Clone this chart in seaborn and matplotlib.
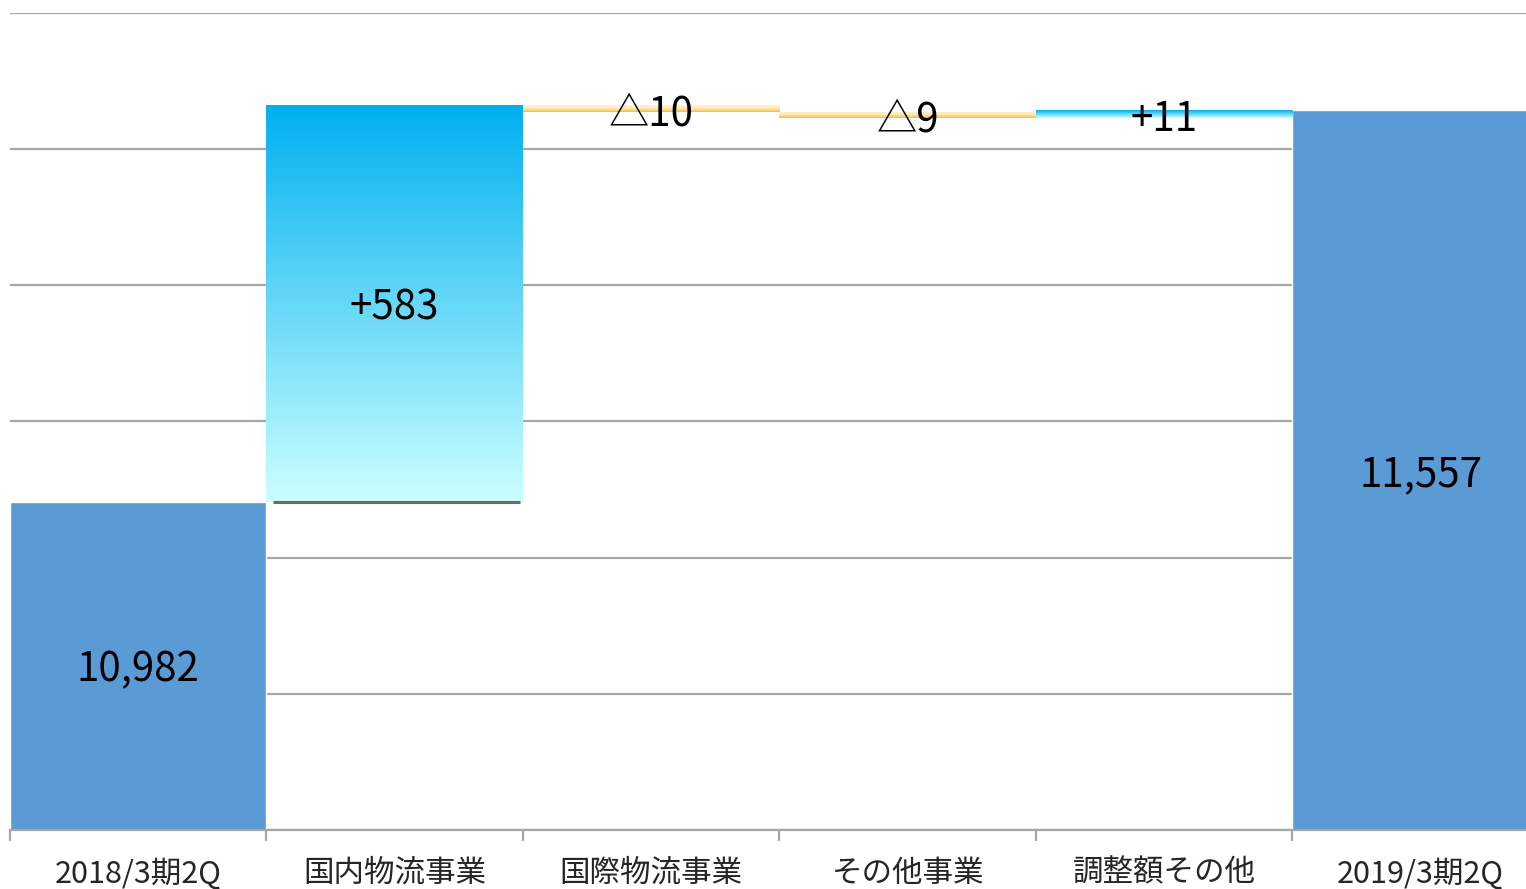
import numpy as np
import pandas as pd
import matplotlib
matplotlib.use("Agg")
import matplotlib.pyplot as plt
from matplotlib.colors import LinearSegmentedColormap
import seaborn as sns

# Data
categories = ["2018/3期2Q", "国内物流事業", "国際物流事業", "その他事業", "調整額その他", "2019/3期2Q"]
start_total = 10982
deltas = [583, -10, -9, 11]
end_total = 11557
labels = ["10,982", "+583", "△10", "△9", "+11", "11,557"]

# Build floating bar table
lows, highs = [0], [start_total]
level = start_total
for d in deltas:
    new = level + d
    lows.append(min(level, new))
    highs.append(max(level, new))
    level = new
lows.append(0)
highs.append(end_total)
df = pd.DataFrame({"cat": categories, "low": lows, "high": highs})

sns.set_style("white")
plt.rcParams["font.family"] = ["Noto Sans CJK JP", "DejaVu Sans"]

fig = plt.figure(figsize=(15.26, 8.89), dpi=100)
# last category is cut off by the right edge of the picture
ax = fig.add_axes([10 / 1526, 59 / 889, 1539 / 1526, (830 - 13) / 889])

sns.barplot(data=df, x="cat", y="high", color="#5B9BD5", width=1.0,
            saturation=1, ax=ax, zorder=2)

ymin, ymax = 10500, 11700

blue_grad = LinearSegmentedColormap.from_list("bg", ["#CCFFFF", "#00B0F0"])
orange_grad = LinearSegmentedColormap.from_list("og", ["#F7B84B", "#FFE8B0", "#FFF3D6"])

for i, (p, row) in enumerate(zip(ax.patches, df.itertuples())):
    p.set_y(row.low)
    p.set_height(row.high - row.low)
    if 0 < i < len(categories) - 1:
        p.set_facecolor("none")
        p.set_edgecolor("none")
        cmap = blue_grad if deltas[i - 1] > 0 else orange_grad
        grad = np.linspace(0, 1, 256).reshape(-1, 1)
        im = ax.imshow(grad, extent=[p.get_x(), p.get_x() + p.get_width(), row.low, row.high],
                       origin="lower", aspect="auto", cmap=cmap, zorder=2)
        im.set_clip_path(p)

# dark edge under the domestic bar
ax.hlines(df["low"][1], 1 - 0.475, 1 + 0.49, color="#6b6b6b", lw=2.2, zorder=3)

# value labels
for i, row in enumerate(df.itertuples()):
    vis_low = max(row.low, ymin)
    mid = (vis_low + row.high) / 2
    off = -3 if row.high - vis_low > 100 else -4
    ax.annotate(labels[i], (i, mid), xytext=(0, off), textcoords="offset points",
                ha="center", va="center", fontsize=29, color="black", zorder=4)

ax.set_xlim(-0.5, len(categories) - 0.5)
ax.set_ylim(ymin, ymax)
ax.set_yticks(np.arange(ymin, ymax + 1, 200))
ax.yaxis.grid(True, color="#a6a6a6", lw=1.6, zorder=0)
ax.set_axisbelow(True)
ax.tick_params(axis="y", left=False, labelleft=False)

ax.set_xticks(np.arange(len(categories) + 1) - 0.5, minor=True)
ax.tick_params(axis="x", which="minor", length=8, width=1.6, color="#a6a6a6", direction="out", bottom=True)
ax.tick_params(axis="x", which="major", length=0, pad=20, labelsize=22)
ax.set_xlabel("")
ax.set_ylabel("")

for s in ["left", "right", "top"]:
    ax.spines[s].set_visible(False)
ax.spines["bottom"].set_color("#a6a6a6")
ax.spines["bottom"].set_linewidth(1.6)

fig.savefig("out.png", dpi=100)
